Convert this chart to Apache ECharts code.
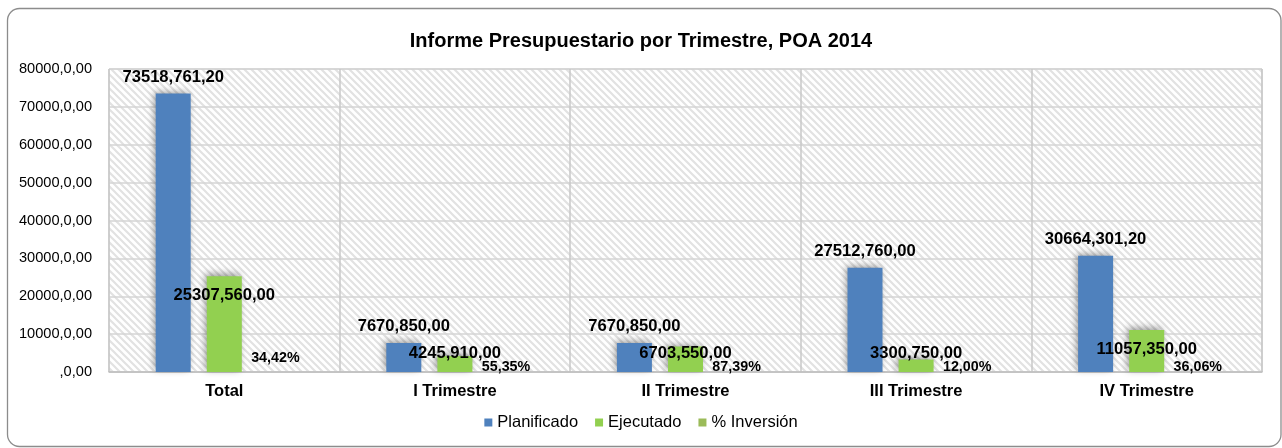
<!DOCTYPE html>
<html>
<head>
<meta charset="utf-8">
<script src="https://cdn.jsdelivr.net/npm/echarts@6/dist/echarts.min.js"></script>
<style>
    html, body { margin: 0; padding: 0; background: #fff; }
    #main { width: 1282px; height: 448px; }
</style>
</head>
<body>
<div id="main"></div>
<script>
// datos del informe
var categories = ['Total', 'I Trimestre', 'II Trimestre', 'III Trimestre', 'IV Trimestre'];
var planificado = [73518761.20, 7670850.00, 7670850.00, 27512760.00, 30664301.20];
var ejecutado = [25307560.00, 4245910.00, 6703550.00, 3300750.00, 11057350.00];
var inversion = [34.42, 55.35, 87.39, 12.00, 36.06];
var yTickLabels = [',0,00', '10000,0,00', '20000,0,00', '30000,0,00', '40000,0,00',
    '50000,0,00', '60000,0,00', '70000,0,00', '80000,0,00'];

var FONT = '"Liberation Sans", Arial, sans-serif';

/**
 * formato raro del excel: 73518,761,20
 */
function fmtMonto(v) {
    var cents = Math.round(v * 100) % 100;
    var ent = Math.floor(v);
    var miles = Math.floor(ent / 1000);
    var resto = String(ent % 1000);
    while (resto.length < 3) resto = '0' + resto;
    return miles + ',' + resto + ',' + (cents < 10 ? '0' + cents : cents);
}

function fmtPct(v) {
    return v.toFixed(2).replace('.', ',') + '%';
}

// fondo rayado del area de grafico
function makeHatch() {
    var c = document.createElement('canvas');
    c.width = 7;
    c.height = 7;
    var ctx = c.getContext('2d');
    ctx.fillStyle = '#ffffff';
    ctx.fillRect(0, 0, 7, 7);
    ctx.strokeStyle = '#e2e2e2';
    ctx.lineWidth = 2.2;
    ctx.beginPath();
    ctx.moveTo(-1, -1); ctx.lineTo(8, 8);
    ctx.moveTo(-8, -1); ctx.lineTo(1, 8);
    ctx.moveTo(6, -1); ctx.lineTo(15, 8);
    ctx.stroke();
    return c;
}

var shadow = {
    shadowBlur: 7,
    shadowColor: 'rgba(0,0,0,0.4)',
    shadowOffsetX: -2,
    shadowOffsetY: -2
};

var ejecutadoData = ejecutado.map(function (v) {
    var big = v >= 10000000;
    return {
        value: v,
        label: big ? { position: 'insideTop', distance: 11 } : { position: 'insideBottom', distance: 10 }
    };
});

var inversionData = inversion.map(function (v, i) {
    return {
        value: v,
        label: { distance: i === 0 ? 7 : -2 }
    };
});

var chart = echarts.init(document.getElementById('main'));

var option = {
    animation: false,
    textStyle: { fontFamily: FONT },
    title: {
        text: 'Informe Presupuestario por Trimestre, POA 2014',
        left: 'center',
        top: 26,
        textStyle: { fontFamily: FONT, fontSize: 20, fontWeight: 'bold', color: '#000' }
    },
    graphic: [{
        type: 'rect',
        silent: true,
        shape: { x: 7.5, y: 8.5, width: 1273.5, height: 438, r: 12 },
        style: { fill: 'none', stroke: '#8c8c8c', lineWidth: 1.3 },
        z: 100
    }],
    legend: {
        bottom: 12,
        left: 'center',
        icon: 'rect',
        itemWidth: 8,
        itemHeight: 8,
        itemGap: 17,
        textStyle: { fontFamily: FONT, fontSize: 16.5, color: '#000' },
        data: ['Planificado', 'Ejecutado', '% Inversión']
    },
    grid: {
        left: 109,
        right: 20,
        top: 69,
        bottom: 76,
        show: true,
        borderColor: '#c4c4c4',
        borderWidth: 1,
        backgroundColor: { image: makeHatch(), repeat: 'repeat' }
    },
    xAxis: {
        type: 'category',
        data: categories,
        axisTick: { show: false },
        axisLine: { lineStyle: { color: '#bfbfbf', width: 1.5 } },
        splitLine: { show: true, lineStyle: { color: '#c8c8c8', width: 1.5 } },
        axisLabel: { margin: 11, fontFamily: FONT, fontSize: 16.5, fontWeight: 'bold', color: '#000' }
    },
    yAxis: {
        type: 'value',
        min: 0,
        max: 80000000,
        interval: 10000000,
        axisLine: { show: false },
        axisTick: { show: false },
        splitLine: { lineStyle: { color: '#d4d4d4', width: 1.5 } },
        axisLabel: {
            margin: 17,
            fontFamily: FONT,
            fontSize: 14.6,
            color: '#000',
            formatter: function (v) {
                return yTickLabels[Math.round(v / 10000000)];
            }
        }
    },
    series: [{
        name: 'Planificado',
        type: 'bar',
        data: planificado,
        barWidth: 35,
        barGap: '46%',
        barCategoryGap: '40%',
        itemStyle: Object.assign({ color: '#4F81BD' }, shadow),
        label: {
            show: true,
            position: 'top',
            distance: 8,
            fontFamily: FONT,
            fontSize: 16.6,
            fontWeight: 'bold',
            color: '#000',
            formatter: function (p) { return fmtMonto(p.value); }
        }
    }, {
        name: 'Ejecutado',
        type: 'bar',
        data: ejecutadoData,
        barWidth: 35,
        itemStyle: Object.assign({ color: '#92D050' }, shadow),
        label: {
            show: true,
            fontFamily: FONT,
            fontSize: 16.6,
            fontWeight: 'bold',
            color: '#000',
            formatter: function (p) { return fmtMonto(p.value); }
        }
    }, {
        name: '% Inversión',
        type: 'bar',
        data: inversionData,
        barWidth: 35,
        itemStyle: { color: '#9BBB59' },
        label: {
            show: true,
            position: 'top',
            fontFamily: FONT,
            fontSize: 14.3,
            fontWeight: 'bold',
            color: '#000',
            formatter: function (p) { return fmtPct(p.value); }
        }
    }]
};

chart.setOption(option);
</script>
</body>
</html>
